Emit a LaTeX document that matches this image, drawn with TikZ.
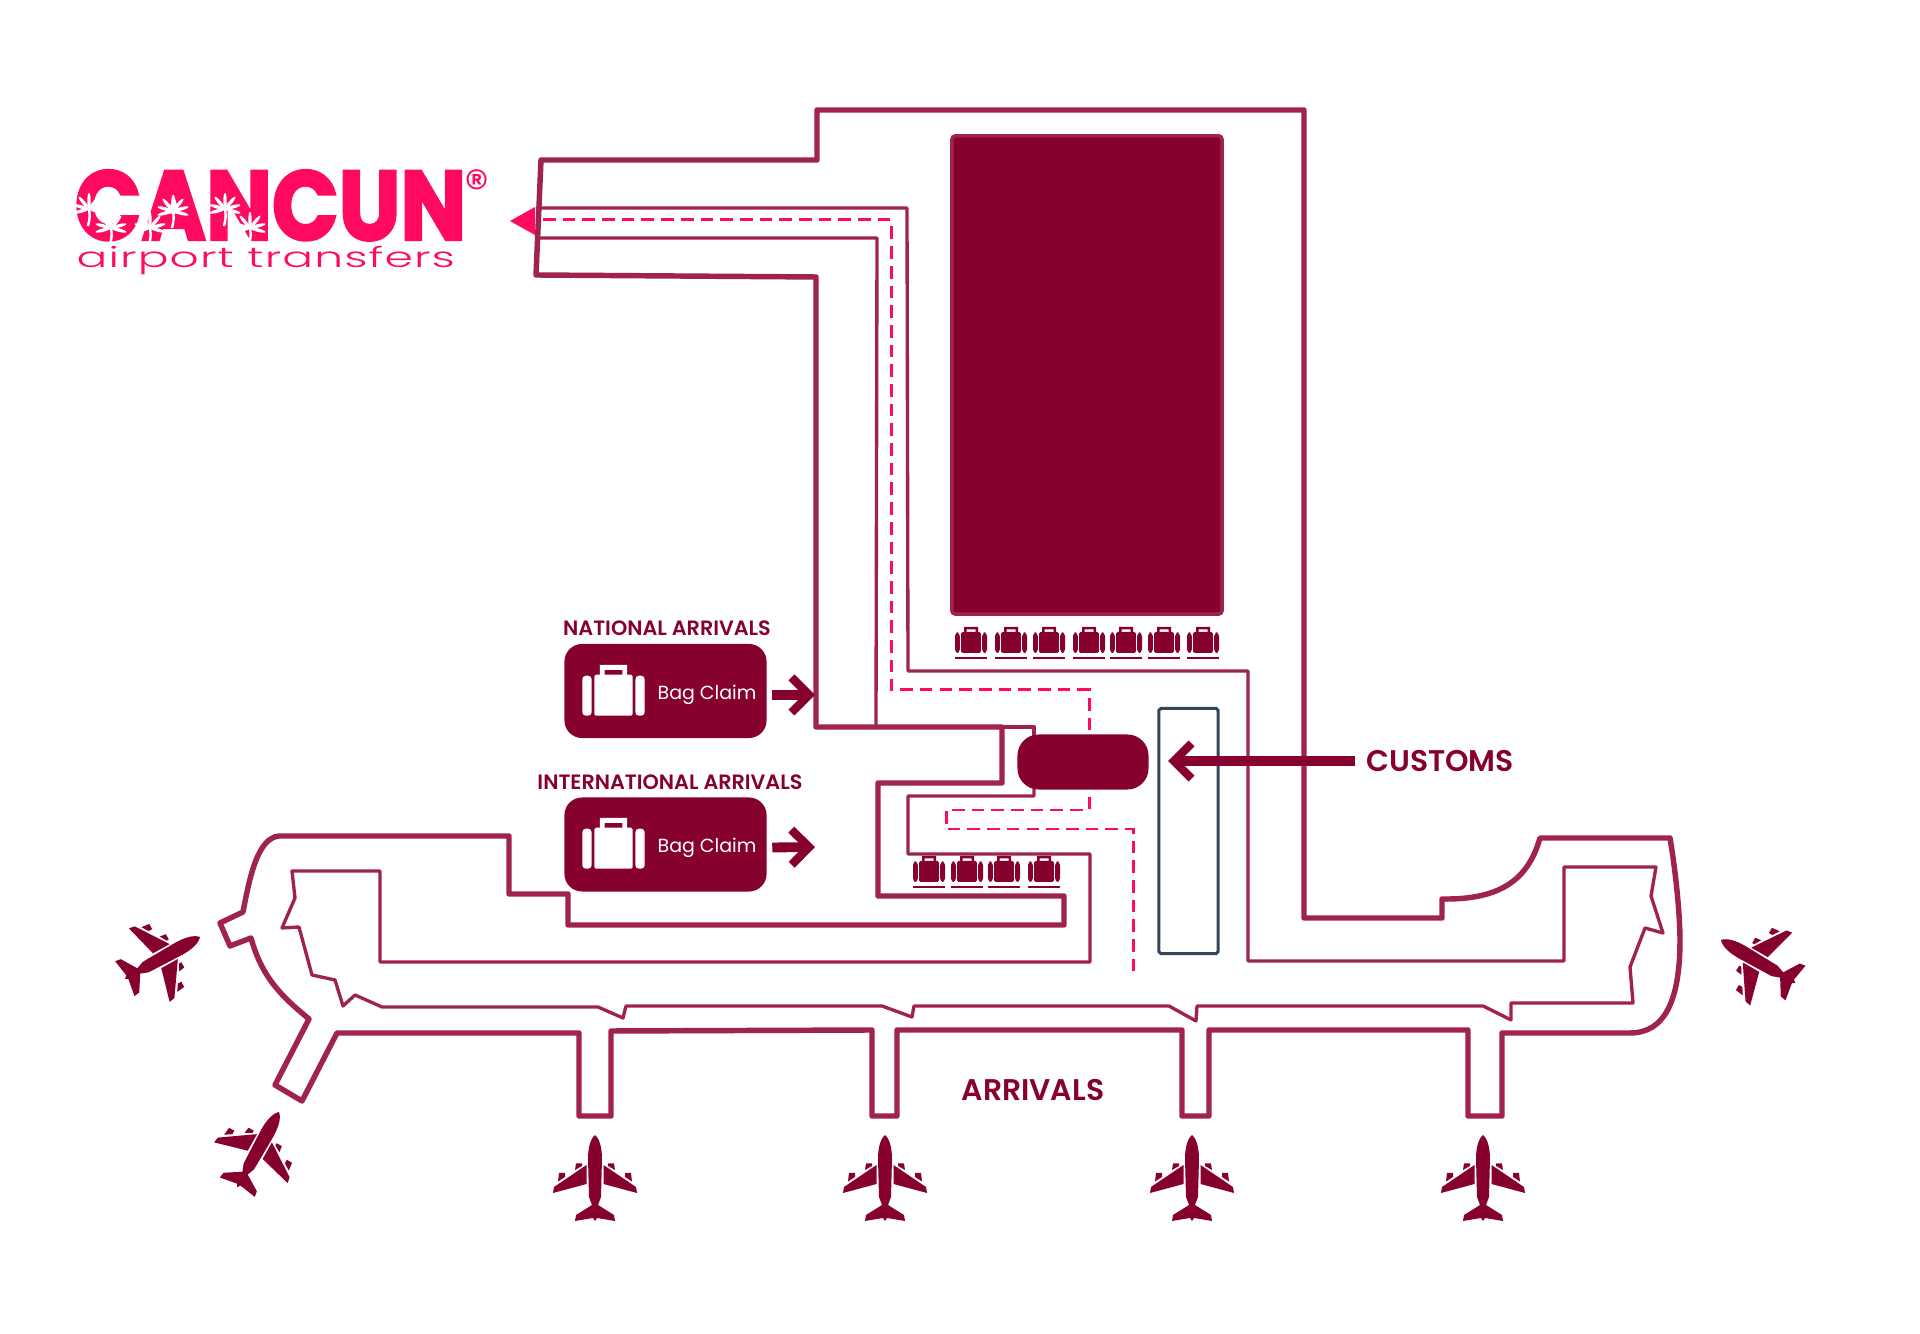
\documentclass[tikz,border=0pt]{standalone}
\usepackage{fontspec}
\usepackage{tikz}
\usetikzlibrary{arrows.meta}
\setmainfont{Poppins}
\newfontfamily\logofont[FakeBold=2.5, FakeStretch=0.89]{Poppins Bold}
\newfontfamily\logothin[FakeStretch=1.62, LetterSpace=4]{Poppins Light}
\newfontfamily\labelfont{Poppins SemiBold}
\definecolor{wine}{HTML}{860030}
\definecolor{wall}{HTML}{A0234F}
\definecolor{rose}{HTML}{FF0A60}
\definecolor{slate}{HTML}{33475B}
\tikzset{
    wallthick/.style={draw=wall, line width=1.55pt, line join=round},
    wallthin/.style={draw=wall, line width=0.95pt, line join=round},
    route/.style={draw=rose, line width=0.85pt, dash pattern=on 3.6pt off 2pt},
    claimbox/.style={fill=wine, rounded corners=5pt, minimum width=2.02cm, minimum height=0.94cm, inner sep=0pt},
    claimtext/.style={text=white, font=\fontsize{5.4}{7}\selectfont},
    headlabel/.style={text=wine, font=\labelfont\fontsize{5.9}{6}\selectfont, inner sep=0pt},
    biglabel/.style={text=wine, font=\labelfont\fontsize{8.5}{9}\selectfont, inner sep=3pt},
    pointer/.style={draw=wine, line width=2.8pt, -{Straight Barb[length=5pt, width=10pt, line width=2.4pt]}},
    pics/plane/.style={code={
        \fill[wine] (0,0) .. controls (5,4) and (7,14) .. (7,24) -- (6,62) -- (3,70) -- (19,80) -- (20,86) -- (2,83) -- (0,86)
            -- (-2,83) -- (-20,86) -- (-19,80) -- (-3,70) -- (-6,62) -- (-7,24) .. controls (-7,14) and (-5,4) .. (0,0) -- cycle;
        \foreach \side in {1,-1} {
            \begin{scope}[xscale=\side]
                \fill[wine] (8.5,30) -- (41,52) -- (42,58) -- (8.5,49) -- cycle;
                \fill[wine] (13,28.5) -- (19,28.5) -- (20,35) -- (13,31) -- cycle;
                \fill[wine] (30,38) -- (36,38) -- (37,46.5) -- (30,42) -- cycle;
            \end{scope}
        }
    }},
    pics/bag/.style={code={
        \fill[even odd rule] (-7,0) rectangle (7,6) (-4.5,2.5) rectangle (4.5,6);
        \fill[rounded corners=0.4pt] (-9.8,5) rectangle (9.8,26);
        \fill[rounded corners=1pt] (-16,5.5) rectangle (-11.2,26);
        \fill[rounded corners=1pt] (11.2,5.5) rectangle (16,26);
    }},
    pics/beltbag/.style={code={
        \pic {bag};
        \fill (-16,30) rectangle (16,32);
    }},
    pics/palm/.style={code={
        \foreach \ang in {-15,15,50,90,130,165,195} {
            \fill[white, rotate=\ang] (8,0) ellipse (8 and 1.7);
        }
        \draw[white, line width=0.7pt] (0,0) .. controls (1,8) .. (-1,17);
    }},
}

\begin{document}
\begin{tikzpicture}[x=0.01cm, y=-0.01cm]
    \useasboundingbox (0,0) rectangle (1920,1334);

    % logo
    \node (logotop) [text=rose, inner sep=0pt, anchor=base west, font=\logofont\fontsize{28}{30}\selectfont] at (74,240) {CANCUN};
    \pic at (89,209) {palm};
    \pic at (111,228) {palm};
    \pic at (150,228) {palm};
    \pic at (173,211) {palm};
    \pic at (225,209) {palm};
    \pic at (250,228) {palm};
    \node (logoreg) [text=rose, inner sep=0pt, font=\fontsize{14}{15}\selectfont] at (477,187) {®};
    \node (logosub) [text=rose, inner sep=0pt, anchor=base west, font=\logothin\fontsize{8}{9}\selectfont] at (76,268) {airport transfers};

    % outer walls of the terminal
    \draw[wallthick] (817,110) -- (1304,110) -- (1304,918) -- (1442,918) -- (1442,899)
        .. controls (1500,900) and (1528,880) .. (1540,838) -- (1670,838)
        .. controls (1677,880) and (1680,920) .. (1680,940)
        .. controls (1680,1000) and (1665,1033) .. (1630,1033)
        -- (1502,1033) -- (1502,1116) -- (1468,1116) -- (1468,1030) -- (1209,1030)
        -- (1209,1116) -- (1182,1116) -- (1182,1030) -- (897,1030) -- (897,1116)
        -- (872,1116) -- (872,1030) -- (611,1031) -- (611,1116) -- (579,1116)
        -- (579,1033) -- (337,1033) -- (302,1101) -- (275,1085) -- (309,1019)
        .. controls (280,995) and (262,977) .. (251,938) -- (230,946) -- (220,923) -- (243,912)
        .. controls (250,875) and (258,838) .. (279,836) -- (509,836) -- (509,894) -- (568,894)
        -- (568,925) -- (1064,925) -- (1064,896) -- (878,896) -- (878,783) -- (1002,783)
        -- (1002,727) -- (816,727) -- (816,277) -- (536,275) -- (541,160) -- (817,160) -- cycle;

    % inner corridors
    \draw[wallthin] (540,208) -- (907,208) -- (908,671) -- (1248,671) -- (1248,961) -- (1564,961)
        -- (1564,867) -- (1656,867) -- (1651,896) -- (1663,933) -- (1645,928) -- (1630,967)
        -- (1633,1003) -- (1511,1003) -- (1511,1020) -- (1483,1006) -- (1197,1006) -- (1196,1021)
        -- (1169,1006) -- (914,1006) -- (912,1017) -- (882,1006) -- (626,1006) -- (623,1018)
        -- (598,1007) -- (382,1007) -- (355,995) -- (343,1006) -- (335,980) -- (312,975)
        -- (299,927) -- (282,928) -- (295,898) -- (292,871) -- (380,871) -- (380,962)
        -- (1090,962) -- (1090,854) -- (908,854) -- (908,796) -- (1034,796) -- (1034,775);
    \draw[wallthin] (540,238) -- (877,238) -- (876,727);
    \draw[wallthin] (1002,727) -- (1034,727) -- (1034,745);

    % passenger route
    \draw[route] (543,220) -- (891,220) -- (891,690) -- (1089,690) -- (1089,810) -- (946,810)
        -- (946,829) -- (1133,829) -- (1133,977);
    \fill[rose] (510,221) -- (535,207) -- (535,235) -- cycle;

    % hall and customs
    \node (hall) [fill=wine, draw=wall, line width=1pt, rounded corners=1pt, minimum width=2.70cm, minimum height=4.78cm] at (1087,375) {};
    \node (desk) [fill=wine, rounded corners=6pt, minimum width=1.31cm, minimum height=0.55cm, inner sep=0pt] at (1083,762) {};
    \node (booth) [draw=slate, line width=0.85pt, rounded corners=0.5pt, minimum width=0.59cm, minimum height=2.45cm, inner sep=0pt] at (1188.5,831) {};
    \node (customs) [biglabel, anchor=west] at (1355,761) {CUSTOMS};
    \coordinate (customstip) at (1168,761);
    \draw[pointer] (customs.west) -- (customstip);

    % bag claim boxes
    \node (natclaim) [claimbox] at (665.5,691) {};
    \node (natname) [headlabel] at (667,628) {NATIONAL ARRIVALS};
    \pic[white, scale=1.95] at (613.5,665) {bag};
    \node (nattext) [claimtext] at (707,695) {Bag Claim};
    \coordinate (nattip) at (815,695);
    \draw[pointer] (natclaim.east) ++(5,4) -- (nattip);

    \node (intclaim) [claimbox] at (665.5,844.5) {};
    \node (intname) [headlabel] at (670,782) {INTERNATIONAL ARRIVALS};
    \pic[white, scale=1.95] at (613.5,818) {bag};
    \node (inttext) [claimtext] at (707,848) {Bag Claim};
    \coordinate (inttip) at (815,847);
    \draw[pointer] (intclaim.east) ++(5,3) -- (inttip);

    % baggage belts
    \pic[wine] at (971,627) {beltbag};
    \pic[wine] at (1011,627) {beltbag};
    \pic[wine] at (1049,627) {beltbag};
    \pic[wine] at (1089,627) {beltbag};
    \pic[wine] at (1126,627) {beltbag};
    \pic[wine] at (1164,627) {beltbag};
    \pic[wine] at (1203,627) {beltbag};

    \pic[wine] at (929,856) {beltbag};
    \pic[wine] at (967,856) {beltbag};
    \pic[wine] at (1004,856) {beltbag};
    \pic[wine] at (1044,856) {beltbag};

    \node (arrivals) [biglabel] at (1033,1090) {ARRIVALS};

    % planes at the gates
    \pic at (595,1135) {plane};
    \pic at (885,1135) {plane};
    \pic at (1192,1135) {plane};
    \pic at (1483,1135) {plane};
    \pic[rotate=-61] at (200,937) {plane};
    \pic[rotate=-29] at (279,1112) {plane};
    \pic[rotate=60] at (1721,940) {plane};
\end{tikzpicture}
\end{document}
